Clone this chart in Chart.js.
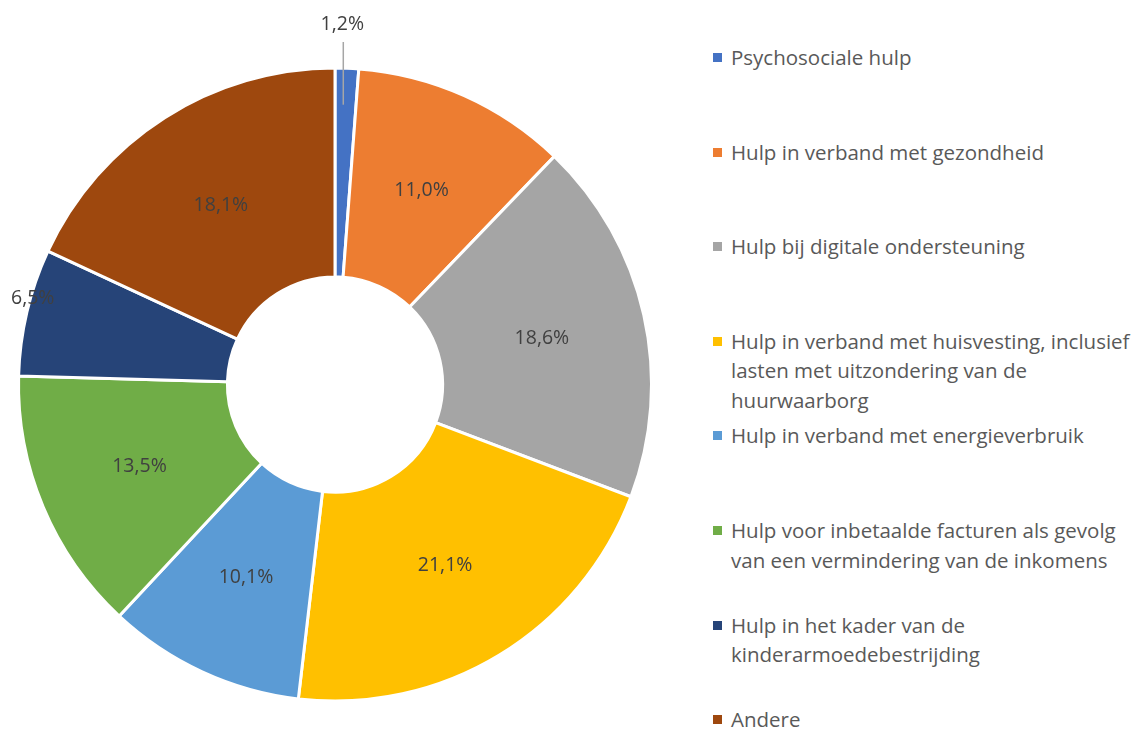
<!DOCTYPE html>
<html>
<head>
<meta charset="utf-8">
<script src="https://cdn.jsdelivr.net/npm/chart.js@4/dist/chart.umd.min.js"></script>
<style>
  body { margin: 0; background: #fff; }
  #wrap { position: relative; width: 1142px; height: 729px; overflow: hidden; }
  #chartBox { position: absolute; left: 0; top: 0; width: 670px; height: 729px; }
  #legend { position: absolute; left: 0; top: 0; }
  .item { position: absolute; left: 713px; font-family: 'Open Sans', sans-serif; font-size: 20.5px; color: #595959; line-height: 29.5px; white-space: nowrap; }
  .item i { position: absolute; left: 0; top: 10px; width: 9px; height: 9px; }
  .item span { display: block; margin-left: 18px; }
</style>
</head>
<body>
<div id="wrap">
  <div id="chartBox"><canvas id="canvas"></canvas></div>
  <div id="legend"></div>
</div>
<script>
// categories (legend lines as in the reference)
let labels = [
  ['Psychosociale hulp'],
  ['Hulp in verband met gezondheid'],
  ['Hulp bij digitale ondersteuning'],
  ['Hulp in verband met huisvesting, inclusief', 'lasten met uitzondering van de', 'huurwaarborg'],
  ['Hulp in verband met energieverbruik'],
  ['Hulp voor inbetaalde facturen als gevolg', 'van een vermindering van de inkomens'],
  ['Hulp in het kader van de', 'kinderarmoedebestrijding'],
  ['Andere']
];
// share in percent
let values = [1.2, 11.0, 18.6, 21.1, 10.1, 13.5, 6.5, 18.1];
let colors = ['#4472C4', '#ED7D31', '#A5A5A5', '#FFC000', '#5B9BD5', '#70AD47', '#264478', '#9E480E'];

// build legend
let legend = document.getElementById('legend');
for (let i = 0; i < labels.length; i++) {
  let d = document.createElement('div');
  d.className = 'item';
  d.style.top = (43 + i * 94.6) + 'px';
  d.innerHTML = '<i style="background:' + colors[i] + '"></i><span>' + labels[i].join('<br>') + '</span>';
  legend.appendChild(d);
}

// percent labels on the slices
let sliceLabels = {
  id: 'sliceLabels',
  afterDatasetsDraw(chart) {
    let ctx = chart.ctx;
    let meta = chart.getDatasetMeta(0);
    ctx.save();
    ctx.font = '19.5px "Open Sans", sans-serif';
    ctx.fillStyle = '#404040';
    ctx.textAlign = 'center';
    ctx.textBaseline = 'middle';
    meta.data.forEach(function(arc, i) {
      let p = arc.getProps(['x', 'y', 'startAngle', 'endAngle', 'innerRadius', 'outerRadius'], true);
      let mid = (p.startAngle + p.endAngle) / 2;
      let r = (p.innerRadius + p.outerRadius) / 2;
      let text = values[i].toFixed(1).replace('.', ',') + '%';
      if (i === 0) {
        // outside with leader line
        let lx = p.x + Math.cos(mid) * 220;
        ctx.strokeStyle = '#A6A6A6';
        ctx.lineWidth = 1.5;
        ctx.beginPath();
        ctx.moveTo(lx, p.y + Math.sin(mid) * 280);
        ctx.lineTo(lx, 42);
        ctx.stroke();
        ctx.fillText(text, lx - 1, 24);
        return;
      }
      let dy = 0;
      if (i === 6) { r = p.outerRadius - 6; dy = -15; }
      ctx.fillText(text, p.x + Math.cos(mid) * r, p.y + Math.sin(mid) * r + dy);
    });
    ctx.restore();
  }
};

let chart = new Chart(document.getElementById('canvas'), {
  type: 'doughnut',
  data: {
    labels: labels.map(function(l) { return l.join(' '); }),
    datasets: [{
      data: values,
      backgroundColor: colors,
      borderColor: '#ffffff',
      borderWidth: 3
    }]
  },
  options: {
    responsive: true,
    maintainAspectRatio: false,
    animation: false,
    cutout: '34%',
    layout: { padding: { top: 66, bottom: 26, left: 17, right: 17 } },
    plugins: {
      legend: { display: false },
      tooltip: { enabled: false }
    }
  },
  plugins: [sliceLabels]
});
</script>
</body>
</html>
